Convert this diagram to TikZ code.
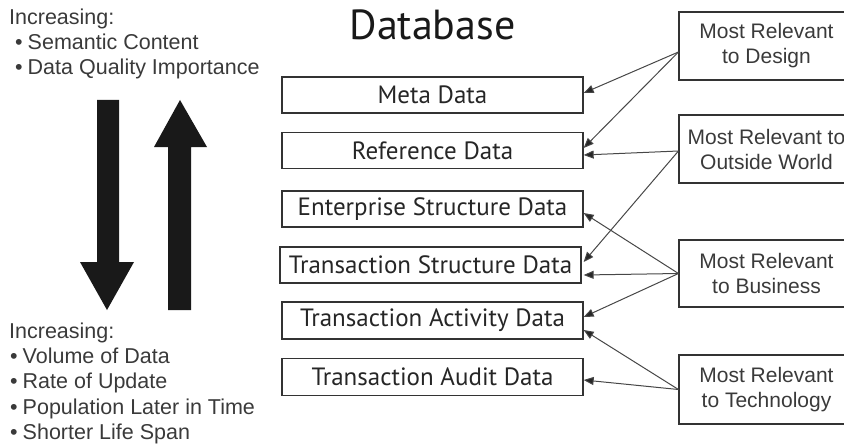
\documentclass[tikz,border=0pt]{standalone}
\usepackage{fontspec}
\setmainfont{Liberation Sans}
\newfontfamily\myr{PT Sans}
\usetikzlibrary{arrows.meta}
\definecolor{txt}{HTML}{3A3A3A}
\definecolor{lin}{HTML}{333333}
\begin{document}
\begin{tikzpicture}[x=1pt,y=-1pt,
  dbox/.style={draw=lin,line width=1.3pt,rectangle,minimum width=301pt,minimum height=36pt,inner sep=0pt,font=\myr\fontsize{25}{28}\selectfont,text=black!85},
  rbox/.style={draw=lin,line width=1.1pt,rectangle,minimum width=175pt,minimum height=68pt,inner sep=0pt,align=center,font=\fontsize{21}{25}\selectfont,text=txt},
  lbl/.style={anchor=base west,inner sep=0pt,font=\fontsize{21.5}{25}\selectfont,text=txt},
  conn/.style={draw=lin!90,line width=1pt,-{Triangle[length=10pt,width=8pt,fill=black!85]}},
  bigarrow/.style={fill=black!90,draw=none}]
\useasboundingbox (0,0) rectangle (844,444);
% title
\node[font=\myr\fontsize{42}{46}\selectfont,text=black!90,anchor=base] (title) at (432.5,40) {Database};
% left boxes
\node[dbox] (meta) at (432.5,95) {Meta Data};
\node[dbox] (ref) at (432.5,150.5) {Reference Data};
\node[dbox] (ent) at (432.5,209) {Enterprise Structure Data};
\node[dbox] (ts) at (430.5,265) {Transaction Structure Data};
\node[dbox,minimum height=37pt] (act) at (432.5,320.5) {Transaction Activity Data};
\node[dbox,minimum height=37pt] (aud) at (432.5,377) {Transaction Audit Data};
% right boxes
\node[rbox] (des) at (766.5,46) {Most Relevant\\to Design};
\node[rbox] (out) at (766.5,149) {Most Relevant to\\Outside World};
\node[rbox,minimum height=67pt] (bus) at (766.5,273.5) {Most Relevant\\to Business};
\node[rbox,minimum height=69pt] (tec) at (766.5,389.5) {Most Relevant\\to Technology};
% connectors
\draw[conn] ([yshift=-6pt]des.west) -- ([yshift=2pt]meta.east);
\draw[conn] ([yshift=-6pt]des.west) -- ([yshift=2.5pt]ref.east);
\draw[conn] ([yshift=-2pt]out.west) -- ([yshift=-4.5pt]ref.east);
\draw[conn] ([yshift=-2pt]out.west) -- ([xshift=2pt,yshift=3pt]ts.east);
\draw[conn] (bus.west) -- ([yshift=-4pt]ent.east);
\draw[conn] (bus.west) -- ([xshift=2pt,yshift=-10pt]ts.east);
\draw[conn] (bus.west) -- ([yshift=3.5pt]act.east);
\draw[conn] (tec.west) -- ([yshift=-9.5pt]act.east);
\draw[conn] (tec.west) -- ([yshift=-3pt]aud.east);
% left texts
\node[lbl] (inc1) at (9,25) {Increasing:};
\node[lbl] (sem) at (15,50) {•\hspace{5pt}Semantic Content};
\node[lbl] (dq) at (15,75) {•\hspace{5pt}Data Quality Importance};
\node[lbl] (inc2) at (9,338) {Increasing:};
\node[lbl] (vol) at (10,363) {•\hspace{5pt}Volume of Data};
\node[lbl] (rate) at (10,388.5) {•\hspace{5pt}Rate of Update};
\node[lbl] (pop) at (10,414) {•\hspace{5pt}Population Later in Time};
\node[lbl] (life) at (10,439.5) {•\hspace{5pt}Shorter Life Span};
% big arrows
\fill[bigarrow] (97,100) -- (119,100) -- (119,262) -- (134,262) -- (107,310) -- (80,262) -- (97,262) -- cycle;
\fill[bigarrow] (168,310) -- (191,310) -- (191,147) -- (207,147) -- (180,100) -- (154,147) -- (168,147) -- cycle;
\end{tikzpicture}
\end{document}
